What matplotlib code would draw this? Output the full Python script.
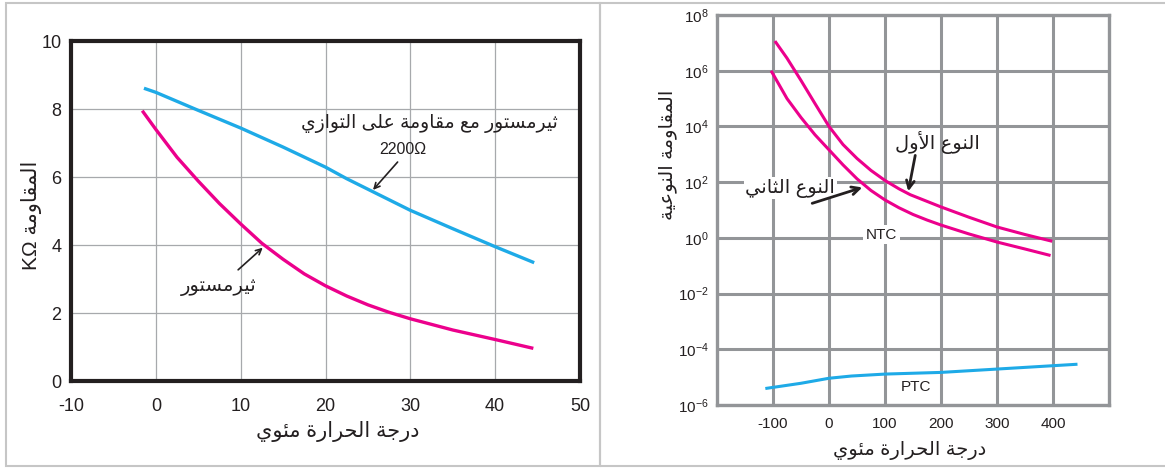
import matplotlib
matplotlib.use("Agg")
import matplotlib.pyplot as plt
from matplotlib.patches import Rectangle
import numpy as np

# ---- Arabic shaping (matplotlib draws glyphs left-to-right without joining)
DUAL = {'ئ': 0xFE89, 'ب': 0xFE8F, 'ت': 0xFE95, 'ث': 0xFE99, 'ج': 0xFE9D, 'ح': 0xFEA1,
        'خ': 0xFEA5, 'س': 0xFEB1, 'ش': 0xFEB5, 'ص': 0xFEB9, 'ض': 0xFEBD, 'ط': 0xFEC1,
        'ظ': 0xFEC5, 'ع': 0xFEC9, 'غ': 0xFECD, 'ف': 0xFED1, 'ق': 0xFED5, 'ك': 0xFED9,
        'ل': 0xFEDD, 'م': 0xFEE1, 'ن': 0xFEE5, 'ه': 0xFEE9, 'ي': 0xFEF1}
RIGHT = {'آ': 0xFE81, 'أ': 0xFE83, 'ؤ': 0xFE85, 'إ': 0xFE87, 'ا': 0xFE8D, 'ة': 0xFE93,
         'د': 0xFEA9, 'ذ': 0xFEAB, 'ر': 0xFEAD, 'ز': 0xFEAF, 'و': 0xFEED, 'ى': 0xFEEF}
LAMALEF = {'آ': 0xFEF5, 'أ': 0xFEF7, 'إ': 0xFEF9, 'ا': 0xFEFB}


def ar(s):
    toks = []
    i = 0
    while i < len(s):
        if s[i] == 'ل' and i + 1 < len(s) and s[i + 1] in LAMALEF:
            toks.append(('LA', LAMALEF[s[i + 1]]))
            i += 2
        else:
            toks.append(('C', s[i]))
            i += 1

    def kind(t):
        if t is None:
            return None
        if t[0] == 'LA':
            return 'R'
        if t[1] in DUAL:
            return 'D'
        if t[1] in RIGHT:
            return 'R'
        return None

    out = []
    for k, t in enumerate(toks):
        prev = toks[k - 1] if k > 0 else None
        nxt = toks[k + 1] if k + 1 < len(toks) else None
        me = kind(t)
        jp = me is not None and kind(prev) == 'D'
        jn = me == 'D' and kind(nxt) in ('D', 'R')
        if t[0] == 'LA':
            out.append(chr(t[1] + (1 if jp else 0)))
        elif me == 'D':
            base = DUAL[t[1]]
            off = 3 if (jp and jn) else 1 if jp else 2 if jn else 0
            out.append(chr(base + off))
        elif me == 'R':
            out.append(chr(RIGHT[t[1]] + (1 if jp else 0)))
        else:
            out.append(t[1])
    return ''.join(out)[::-1]


# ---- data: left chart (temperature °C, resistance kOhm)
temp_parallel = [-1.4, 0, 5, 10, 15, 20, 22.5, 25, 30, 35, 40, 44.6]
r_parallel = [8.61, 8.49, 7.96, 7.44, 6.88, 6.29, 5.95, 5.64, 5.02, 4.48, 3.95, 3.48]

temp_thermistor = [-1.6, 0, 2.5, 5, 7.5, 10, 12.5, 15, 17.5, 20, 22.5, 25, 27.5, 30, 35, 40, 44.5]
r_thermistor = [7.95, 7.40, 6.58, 5.88, 5.22, 4.62, 4.05, 3.58, 3.15, 2.80, 2.50, 2.24,
                2.02, 1.83, 1.50, 1.22, 0.96]

# ---- data: right chart (temperature °C, log10 of resistivity)
temp_type1 = [-95, -75, -50, -25, 0, 25, 50, 75, 100, 125, 145, 175, 200, 250, 300, 350, 396]
log_type1 = [7.02, 6.45, 5.65, 4.82, 4.0, 3.35, 2.85, 2.42, 2.06, 1.76, 1.55, 1.31, 1.11,
             0.74, 0.39, 0.12, -0.11]

temp_type2 = [-102, -75, -50, -25, 0, 25, 50, 75, 100, 125, 150, 175, 200, 250, 300, 350, 393]
log_type2 = [5.95, 5.0, 4.32, 3.70, 3.16, 2.62, 2.12, 1.70, 1.36, 1.08, 0.84, 0.64, 0.46,
             0.14, -0.15, -0.40, -0.62]

temp_ptc = [-111, -50, 0, 40, 100, 200, 300, 441]
log_ptc = [-5.40, -5.22, -5.04, -4.96, -4.89, -4.83, -4.71, -4.54]

x_ticks_left = [-10, 0, 10, 20, 30, 40, 50]
y_ticks_left = [0, 2, 4, 6, 8, 10]
x_ticks_right = [-100, 0, 100, 200, 300, 400]
y_exps_right = [-6, -4, -2, 0, 2, 4, 6, 8]

PINK = '#ec008c'
CYAN = '#1eaae7'
DARK = '#231f20'
GRAY_R = '#939598'

plt.rcParams['font.family'] = ['Liberation Sans', 'DejaVu Sans']
plt.rcParams['axes.unicode_minus'] = False
plt.rcParams['mathtext.fontset'] = 'custom'
plt.rcParams['mathtext.rm'] = 'Liberation Sans'
plt.rcParams['mathtext.it'] = 'Liberation Sans:italic'

fig = plt.figure(figsize=(11.65, 4.68), dpi=100)
W, H = 1165, 468

# panel frames
fig.add_artist(Rectangle((6 / W, 2 / H), 594 / W, 463 / H, transform=fig.transFigure,
                         fill=False, edgecolor='#c6c6c6', lw=1.5))
fig.add_artist(Rectangle((600 / W, 2 / H), 570 / W, 463 / H, transform=fig.transFigure,
                         fill=False, edgecolor='#c6c6c6', lw=1.5))

arrow = dict(arrowstyle='->', color=DARK, lw=1.2, shrinkA=0, shrinkB=0)
arrow_thick = dict(arrowstyle='->', color=DARK, lw=2.0, shrinkA=0, shrinkB=0,
                   mutation_scale=14)

# ---------------- left chart
ax1 = fig.add_axes([71 / W, 1 - 381 / H, 509 / W, 340 / H])
ax1.set_xlim(-10, 50)
ax1.set_ylim(0, 10)
ax1.set_xticks(x_ticks_left)
ax1.set_yticks(y_ticks_left)
ax1.grid(True, color='#a7a9ac', lw=0.9)
ax1.set_axisbelow(True)
for sp in ax1.spines.values():
    sp.set_color(DARK)
    sp.set_linewidth(3)
ax1.tick_params(length=0, labelsize=13, colors=DARK)
ax1.tick_params(axis='x', pad=12)
ax1.tick_params(axis='y', pad=7)

ax1.plot(temp_parallel, r_parallel, color=CYAN, lw=2.4, solid_capstyle='butt')
ax1.plot(temp_thermistor, r_thermistor, color=PINK, lw=2.4, solid_capstyle='butt')

ax1.text(32.2, 7.58, ar('ثيرمستور مع مقاومة على التوازي'), ha='center', va='center',
         fontsize=13.5, color=DARK)
ax1.text(29.1, 6.82, '2200Ω', ha='center', va='center', fontsize=11.5, color=DARK)
ax1.annotate('', xy=(25.6, 5.62), xytext=(28.5, 6.44), arrowprops=arrow)
ax1.text(7.4, 2.75, ar('ثيرمستور'), ha='center', va='center', fontsize=14, color=DARK)
ax1.annotate('', xy=(12.6, 3.92), xytext=(9.7, 3.27), arrowprops=arrow)

fig.text(338 / W, 1 - 432 / H, ar('درجة الحرارة مئوي'), ha='center', va='center',
         fontsize=15, color=DARK)
fig.text(31 / W, 1 - 215 / H, 'KΩ ' + ar('المقاومة'), ha='center', va='center',
         rotation=90, fontsize=15, color=DARK)

# ---------------- right chart
ax2 = fig.add_axes([717 / W, 1 - 405 / H, 392 / W, 390 / H])
ax2.set_yscale('log')
ax2.set_xlim(-200, 500)
ax2.set_ylim(1e-6, 1e8)
ax2.set_xticks(x_ticks_right)
ax2.set_yticks([10.0 ** e for e in y_exps_right])
ax2.set_yticklabels([r'$\mathregular{10^{%d}}$' % e for e in y_exps_right])
ax2.minorticks_off()
ax2.grid(True, color=GRAY_R, lw=2.2)
ax2.set_axisbelow(True)
for sp in ax2.spines.values():
    sp.set_color(GRAY_R)
    sp.set_linewidth(2.4)
ax2.tick_params(length=0, labelsize=11, colors=DARK)
ax2.tick_params(axis='x', pad=9)
ax2.tick_params(axis='y', pad=6)

ax2.plot(temp_type1, 10.0 ** np.array(log_type1), color=PINK, lw=2.2)
ax2.plot(temp_type2, 10.0 ** np.array(log_type2), color=PINK, lw=2.2)
ax2.plot(temp_ptc, 10.0 ** np.array(log_ptc), color=CYAN, lw=2.2)

ax2.text(193, 10 ** 3.43, ar('النوع الأول'), ha='center', va='center',
         fontsize=14, color=DARK)
ax2.annotate('', xy=(141.6, 10 ** 1.67), xytext=(154, 10 ** 2.96), arrowprops=arrow_thick)
ax2.text(-69, 10 ** 1.78, ar('النوع الثاني'), ha='center', va='center',
         fontsize=14, color=DARK,
         bbox=dict(facecolor='white', edgecolor='none', pad=1))
ax2.annotate('', xy=(59.5, 10 ** 1.81), xytext=(-30, 10 ** 1.24), arrowprops=arrow_thick)
ax2.text(93, 10 ** 0.12, 'NTC', ha='center', va='center', fontsize=11, color=DARK,
         bbox=dict(facecolor='white', edgecolor='none', pad=2))
ax2.text(156, 10 ** -5.35, 'PTC', ha='center', va='center', fontsize=11, color=DARK)

fig.text(910 / W, 1 - 450 / H, ar('درجة الحرارة مئوي'), ha='center', va='center',
         fontsize=14, color=DARK)
fig.text(668 / W, 1 - 155 / H, ar('المقاومة النوعية'), ha='center', va='center',
         rotation=90, fontsize=14, color=DARK)

fig.savefig('out.png', dpi=100)
